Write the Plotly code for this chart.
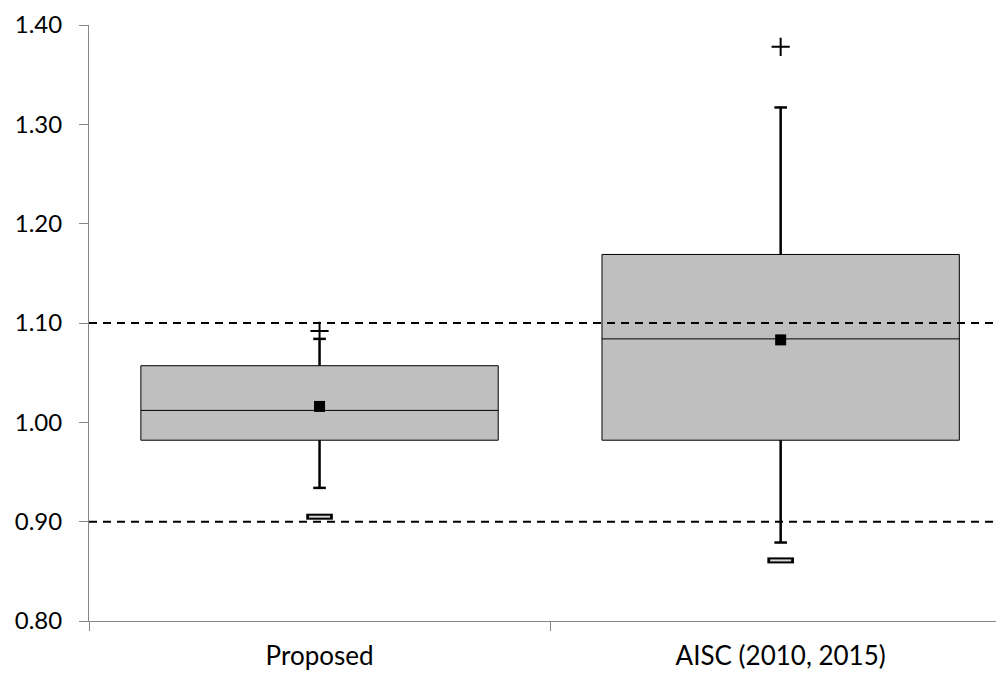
import plotly.graph_objects as go

categories = ["Proposed", "AISC (2010, 2015)"]
q1 = [0.982, 0.982]
median = [1.012, 1.084]
q3 = [1.057, 1.169]
lower_whisker = [0.934, 0.879]
upper_whisker = [1.084, 1.317]
means = [1.016, 1.083]
maxima = [1.092, 1.378]
minima = [0.905, 0.861]
limits = [1.10, 0.90]
y_ticks = [0.80, 0.90, 1.00, 1.10, 1.20, 1.30, 1.40]

fig = go.Figure()

fig.add_trace(go.Box(
    x=categories, q1=q1, median=median, q3=q3,
    lowerfence=q1, upperfence=q3,
    fillcolor="#BFBFBF", line=dict(color="black", width=1),
    width=0.775, whiskerwidth=0, showlegend=False, hoverinfo="skip"))

# whisker segments (box edge -> whisker end)
wx, wy = [], []
for c, a, b, lo, hi in zip(categories, q1, q3, lower_whisker, upper_whisker):
    wx += [c, c, None, c, c, None]
    wy += [b, hi, None, a, lo, None]
fig.add_trace(go.Scatter(
    x=wx, y=wy, mode="lines", line=dict(color="black", width=2.5),
    showlegend=False, hoverinfo="skip"))
# whisker caps
fig.add_trace(go.Scatter(
    x=categories + categories, y=upper_whisker + lower_whisker, mode="markers",
    marker=dict(symbol="line-ew", size=9, line=dict(color="black", width=2.5)),
    showlegend=False, hoverinfo="skip"))

# means
fig.add_trace(go.Scatter(
    x=categories, y=means, mode="markers",
    marker=dict(symbol="square", size=11, color="black"),
    showlegend=False, hoverinfo="skip"))
# maxima
fig.add_trace(go.Scatter(
    x=categories, y=maxima, mode="markers",
    marker=dict(symbol="cross-thin", size=13, line=dict(color="black", width=2)),
    showlegend=False, hoverinfo="skip"))
# minima (hollow bar)
fig.add_trace(go.Scatter(
    x=categories, y=minima, mode="markers",
    marker=dict(symbol="line-ew", size=19, line=dict(color="black", width=6)),
    showlegend=False, hoverinfo="skip"))
fig.add_trace(go.Scatter(
    x=categories, y=minima, mode="markers",
    marker=dict(symbol="line-ew", size=15, line=dict(color="#D9D9D9", width=2)),
    showlegend=False, hoverinfo="skip"))

for lim in limits:
    fig.add_shape(type="line", xref="paper", yref="y", x0=0, x1=0.9967, y0=lim, y1=lim,
                  line=dict(color="black", width=2, dash="8px,6px"), layer="above")

fig.update_layout(
    width=988, height=663,
    margin=dict(l=81, r=0, t=17, b=43),
    plot_bgcolor="white", paper_bgcolor="white",
    font=dict(family="Lato, Open Sans, sans-serif", size=24, color="black"),
)
fig.update_yaxes(
    range=[0.80, 1.40], tickvals=y_ticks, ticktext=[f"{v:.2f}" for v in y_ticks],
    showgrid=False, zeroline=False, showline=True, linecolor="#868686", linewidth=1,
    ticks="outside", ticklen=9, tickcolor="#868686", tickfont=dict(size=24),
    ticklabelstandoff=12)
fig.update_xaxes(
    range=[-0.5, 1.467],
    showgrid=False, showline=True, linecolor="#868686", linewidth=1,
    ticks="outside", ticklen=9, tickcolor="#868686", tickson="boundaries",
    tickfont=dict(size=26), ticklabelstandoff=12)

fig.write_html("out.html")
